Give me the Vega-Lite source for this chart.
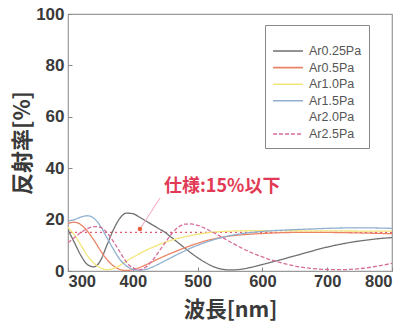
{
  "$schema": "https://vega.github.io/schema/vega-lite/v6.json",
  "width": 324,
  "height": 257,
  "autosize": "none",
  "padding": {"left": 68, "top": 14, "right": 15, "bottom": 51},
  "background": "white",
  "config": {
    "view": {"stroke": "#9a9a9a", "strokeWidth": 1.2},
    "axis": {"grid": false, "domain": false, "tickColor": "#888", "tickSize": -4, "labelPadding": 8,
      "labelFont": "Liberation Sans", "labelFontWeight": "bold", "labelFontSize": 17, "labelColor": "#3a3a3a",
      "titleFont": "Noto Sans CJK JP", "titleFontWeight": "bold", "titleColor": "#3a3a3a"}
  },
  "datasets": {
    "curves": [
      {"wl":300,"R":16,"s":"Ar0.25Pa"},{"wl":310,"R":11,"s":"Ar0.25Pa"},{"wl":320,"R":6,"s":"Ar0.25Pa"},{"wl":330,"R":2.5,"s":"Ar0.25Pa"},{"wl":340,"R":1.6,"s":"Ar0.25Pa"},{"wl":350,"R":4,"s":"Ar0.25Pa"},{"wl":360,"R":10,"s":"Ar0.25Pa"},{"wl":370,"R":16,"s":"Ar0.25Pa"},{"wl":380,"R":20.5,"s":"Ar0.25Pa"},{"wl":390,"R":22.5,"s":"Ar0.25Pa"},{"wl":400,"R":22.3,"s":"Ar0.25Pa"},{"wl":410,"R":21,"s":"Ar0.25Pa"},{"wl":420,"R":19.5,"s":"Ar0.25Pa"},{"wl":430,"R":18,"s":"Ar0.25Pa"},{"wl":440,"R":16.5,"s":"Ar0.25Pa"},{"wl":450,"R":15,"s":"Ar0.25Pa"},{"wl":460,"R":13,"s":"Ar0.25Pa"},{"wl":470,"R":11,"s":"Ar0.25Pa"},{"wl":480,"R":9,"s":"Ar0.25Pa"},{"wl":490,"R":7,"s":"Ar0.25Pa"},{"wl":500,"R":5.2,"s":"Ar0.25Pa"},{"wl":510,"R":3.6,"s":"Ar0.25Pa"},{"wl":520,"R":2.2,"s":"Ar0.25Pa"},{"wl":530,"R":1.2,"s":"Ar0.25Pa"},{"wl":540,"R":0.6,"s":"Ar0.25Pa"},{"wl":550,"R":0.4,"s":"Ar0.25Pa"},{"wl":560,"R":0.5,"s":"Ar0.25Pa"},{"wl":570,"R":0.8,"s":"Ar0.25Pa"},{"wl":580,"R":1.3,"s":"Ar0.25Pa"},{"wl":600,"R":2.5,"s":"Ar0.25Pa"},{"wl":620,"R":3.8,"s":"Ar0.25Pa"},{"wl":640,"R":5.2,"s":"Ar0.25Pa"},{"wl":660,"R":6.6,"s":"Ar0.25Pa"},{"wl":680,"R":8,"s":"Ar0.25Pa"},{"wl":700,"R":9.3,"s":"Ar0.25Pa"},{"wl":720,"R":10.4,"s":"Ar0.25Pa"},{"wl":740,"R":11.3,"s":"Ar0.25Pa"},{"wl":760,"R":12,"s":"Ar0.25Pa"},{"wl":780,"R":12.6,"s":"Ar0.25Pa"},{"wl":800,"R":13,"s":"Ar0.25Pa"},

      {"wl":300,"R":18.5,"s":"Ar0.5Pa"},{"wl":310,"R":19,"s":"Ar0.5Pa"},{"wl":320,"R":18,"s":"Ar0.5Pa"},{"wl":330,"R":15.5,"s":"Ar0.5Pa"},{"wl":340,"R":12,"s":"Ar0.5Pa"},{"wl":350,"R":8,"s":"Ar0.5Pa"},{"wl":360,"R":4.5,"s":"Ar0.5Pa"},{"wl":370,"R":2,"s":"Ar0.5Pa"},{"wl":380,"R":0.6,"s":"Ar0.5Pa"},{"wl":390,"R":0.2,"s":"Ar0.5Pa"},{"wl":400,"R":0.5,"s":"Ar0.5Pa"},{"wl":410,"R":1.3,"s":"Ar0.5Pa"},{"wl":420,"R":2.4,"s":"Ar0.5Pa"},{"wl":440,"R":4.8,"s":"Ar0.5Pa"},{"wl":460,"R":7,"s":"Ar0.5Pa"},{"wl":480,"R":9,"s":"Ar0.5Pa"},{"wl":500,"R":10.8,"s":"Ar0.5Pa"},{"wl":520,"R":12.2,"s":"Ar0.5Pa"},{"wl":540,"R":13.2,"s":"Ar0.5Pa"},{"wl":560,"R":13.9,"s":"Ar0.5Pa"},{"wl":580,"R":14.3,"s":"Ar0.5Pa"},{"wl":600,"R":14.6,"s":"Ar0.5Pa"},{"wl":650,"R":15,"s":"Ar0.5Pa"},{"wl":700,"R":15,"s":"Ar0.5Pa"},{"wl":750,"R":14.8,"s":"Ar0.5Pa"},{"wl":800,"R":14.5,"s":"Ar0.5Pa"},

      {"wl":300,"R":17,"s":"Ar1.0Pa"},{"wl":310,"R":14,"s":"Ar1.0Pa"},{"wl":320,"R":10,"s":"Ar1.0Pa"},{"wl":330,"R":6,"s":"Ar1.0Pa"},{"wl":340,"R":3,"s":"Ar1.0Pa"},{"wl":350,"R":1.2,"s":"Ar1.0Pa"},{"wl":360,"R":0.5,"s":"Ar1.0Pa"},{"wl":370,"R":1,"s":"Ar1.0Pa"},{"wl":380,"R":2.2,"s":"Ar1.0Pa"},{"wl":390,"R":3.8,"s":"Ar1.0Pa"},{"wl":400,"R":5.3,"s":"Ar1.0Pa"},{"wl":420,"R":8,"s":"Ar1.0Pa"},{"wl":440,"R":10.2,"s":"Ar1.0Pa"},{"wl":460,"R":12,"s":"Ar1.0Pa"},{"wl":480,"R":13.3,"s":"Ar1.0Pa"},{"wl":500,"R":14.3,"s":"Ar1.0Pa"},{"wl":520,"R":15,"s":"Ar1.0Pa"},{"wl":540,"R":15.4,"s":"Ar1.0Pa"},{"wl":560,"R":15.6,"s":"Ar1.0Pa"},{"wl":600,"R":15.7,"s":"Ar1.0Pa"},{"wl":700,"R":15.6,"s":"Ar1.0Pa"},{"wl":800,"R":15.5,"s":"Ar1.0Pa"},

      {"wl":300,"R":19.5,"s":"Ar1.5Pa"},{"wl":310,"R":20,"s":"Ar1.5Pa"},{"wl":320,"R":21,"s":"Ar1.5Pa"},{"wl":330,"R":21.5,"s":"Ar1.5Pa"},{"wl":340,"R":20.5,"s":"Ar1.5Pa"},{"wl":350,"R":17.5,"s":"Ar1.5Pa"},{"wl":360,"R":13,"s":"Ar1.5Pa"},{"wl":370,"R":8.5,"s":"Ar1.5Pa"},{"wl":380,"R":4.5,"s":"Ar1.5Pa"},{"wl":390,"R":2,"s":"Ar1.5Pa"},{"wl":400,"R":0.6,"s":"Ar1.5Pa"},{"wl":410,"R":0.3,"s":"Ar1.5Pa"},{"wl":420,"R":0.6,"s":"Ar1.5Pa"},{"wl":430,"R":1.5,"s":"Ar1.5Pa"},{"wl":440,"R":2.7,"s":"Ar1.5Pa"},{"wl":450,"R":4,"s":"Ar1.5Pa"},{"wl":460,"R":5.3,"s":"Ar1.5Pa"},{"wl":470,"R":6.6,"s":"Ar1.5Pa"},{"wl":480,"R":7.8,"s":"Ar1.5Pa"},{"wl":490,"R":9,"s":"Ar1.5Pa"},{"wl":500,"R":10,"s":"Ar1.5Pa"},{"wl":520,"R":11.8,"s":"Ar1.5Pa"},{"wl":540,"R":13.2,"s":"Ar1.5Pa"},{"wl":560,"R":14.2,"s":"Ar1.5Pa"},{"wl":580,"R":14.9,"s":"Ar1.5Pa"},{"wl":600,"R":15.4,"s":"Ar1.5Pa"},{"wl":640,"R":16,"s":"Ar1.5Pa"},{"wl":680,"R":16.4,"s":"Ar1.5Pa"},{"wl":700,"R":16.6,"s":"Ar1.5Pa"},{"wl":750,"R":16.8,"s":"Ar1.5Pa"},{"wl":800,"R":16.6,"s":"Ar1.5Pa"},

      {"wl":300,"R":11,"s":"Ar2.5Pa"},{"wl":310,"R":13,"s":"Ar2.5Pa"},{"wl":320,"R":15,"s":"Ar2.5Pa"},{"wl":330,"R":16.5,"s":"Ar2.5Pa"},{"wl":340,"R":17.3,"s":"Ar2.5Pa"},{"wl":350,"R":17,"s":"Ar2.5Pa"},{"wl":360,"R":15,"s":"Ar2.5Pa"},{"wl":370,"R":11.5,"s":"Ar2.5Pa"},{"wl":380,"R":7.5,"s":"Ar2.5Pa"},{"wl":390,"R":3.5,"s":"Ar2.5Pa"},{"wl":400,"R":1.2,"s":"Ar2.5Pa"},{"wl":410,"R":0.5,"s":"Ar2.5Pa"},{"wl":420,"R":1.5,"s":"Ar2.5Pa"},{"wl":430,"R":4,"s":"Ar2.5Pa"},{"wl":440,"R":7.5,"s":"Ar2.5Pa"},{"wl":450,"R":11,"s":"Ar2.5Pa"},{"wl":460,"R":14.5,"s":"Ar2.5Pa"},{"wl":470,"R":17,"s":"Ar2.5Pa"},{"wl":480,"R":18.2,"s":"Ar2.5Pa"},{"wl":490,"R":18.3,"s":"Ar2.5Pa"},{"wl":500,"R":17.8,"s":"Ar2.5Pa"},{"wl":510,"R":16.8,"s":"Ar2.5Pa"},{"wl":520,"R":15.5,"s":"Ar2.5Pa"},{"wl":530,"R":14.2,"s":"Ar2.5Pa"},{"wl":540,"R":12.8,"s":"Ar2.5Pa"},{"wl":560,"R":10,"s":"Ar2.5Pa"},{"wl":580,"R":7.5,"s":"Ar2.5Pa"},{"wl":600,"R":5.5,"s":"Ar2.5Pa"},{"wl":620,"R":3.8,"s":"Ar2.5Pa"},{"wl":640,"R":2.5,"s":"Ar2.5Pa"},{"wl":660,"R":1.5,"s":"Ar2.5Pa"},{"wl":680,"R":0.9,"s":"Ar2.5Pa"},{"wl":700,"R":0.6,"s":"Ar2.5Pa"},{"wl":720,"R":0.5,"s":"Ar2.5Pa"},{"wl":740,"R":0.7,"s":"Ar2.5Pa"},{"wl":760,"R":1.2,"s":"Ar2.5Pa"},{"wl":780,"R":2,"s":"Ar2.5Pa"},{"wl":800,"R":3,"s":"Ar2.5Pa"}
    ],
    "leader": [{"wl":442,"R":28.4},{"wl":411,"R":16.3}],
    "note": [{"wl":538,"R":32.7,"label":"仕様:15%以下"}],
    "spec": [{"spec":15}]
  },
  "layer": [
    {
      "data": {"name": "spec"},
      "mark": {"type": "rule", "color": "#e05a70", "strokeWidth": 1.3, "strokeDash": [2, 3]},
      "encoding": {"y": {"field": "spec", "type": "quantitative", "scale": {"domain": [0, 100]}}}
    },
    {
      "data": {"name": "curves"},
      "mark": {"type": "line", "strokeWidth": 1.3, "interpolate": "monotone", "clip": true},
      "encoding": {
        "x": {"field": "wl", "type": "quantitative", "scale": {"domain": [300, 800], "nice": false},
          "axis": {"values": [300,400,500,600,700,800], "title": "波長[nm]", "titleFontSize": 21.5, "labelPadding": 6, "labelFontSize": 16.5,
            "titleBaseline": "alphabetic", "titleY": 45}},
        "y": {"field": "R", "type": "quantitative", "scale": {"domain": [0, 100], "nice": false},
          "axis": {"values": [0,20,40,60,80,100], "title": "反射率[%]", "titleFontSize": 22, "titlePadding": 1}},
        "color": {"field": "s", "type": "nominal",
          "scale": {"domain": ["Ar0.25Pa","Ar0.5Pa","Ar1.0Pa","Ar1.5Pa","Ar2.0Pa","Ar2.5Pa"],
                    "range": ["#707070","#ec8466","#f3e57a","#8fb0cf","#ffffff","#d86c9a"]},
          "legend": {"title": " ", "titleFontSize": 8, "titlePadding": 2, "orient": "none", "legendX": 197, "legendY": 11,
            "symbolType": "M-1,0H2.75", "symbolSize": 256, "symbolStrokeWidth": 1.6,
            "labelFont": "Liberation Sans", "labelFontSize": 12.5, "labelColor": "#555", "labelOffset": 19,
            "rowPadding": 0.6, "padding": 7, "strokeColor": "#888", "fillColor": "white"}},
        "strokeDash": {"field": "s", "type": "nominal",
          "scale": {"domain": ["Ar0.25Pa","Ar0.5Pa","Ar1.0Pa","Ar1.5Pa","Ar2.0Pa","Ar2.5Pa"],
                    "range": [[1,0],[1,0],[1,0],[1,0],[1,0],[4,2]]}}
      }
    },
    {
      "data": {"name": "leader"},
      "mark": {"type": "line", "color": "#f2a0b4", "strokeWidth": 1},
      "encoding": {"x": {"field": "wl", "type": "quantitative"}, "y": {"field": "R", "type": "quantitative"}}
    },
    {
      "data": {"name": "leader"},
      "transform": [{"filter": "datum.R < 20"}],
      "mark": {"type": "point", "filled": true, "color": "#e8603a", "size": 20, "opacity": 1},
      "encoding": {"x": {"field": "wl", "type": "quantitative"}, "y": {"field": "R", "type": "quantitative"}}
    },
    {
      "data": {"name": "note"},
      "mark": {"type": "text", "font": "Noto Sans CJK JP", "fontWeight": "bold", "fontSize": 18, "color": "#e23a55"},
      "encoding": {"x": {"field": "wl", "type": "quantitative"}, "y": {"field": "R", "type": "quantitative"}, "text": {"field": "label"}}
    }
  ]
}
